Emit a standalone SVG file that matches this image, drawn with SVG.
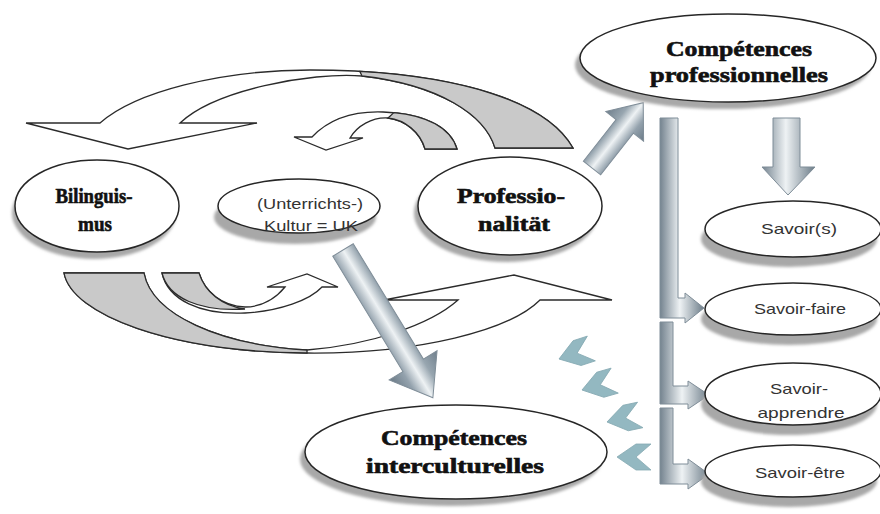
<svg xmlns="http://www.w3.org/2000/svg" width="880" height="514" viewBox="0 0 880 514">
<style>
.node{fill:#fff;stroke:#262626;stroke-width:1.5}
.shadow{fill:#a8a8a8;filter:url(#blur)}
.band{fill:#fff;stroke:#2b2b2b;stroke-width:1.3;stroke-linejoin:miter}
.bandg{fill:#c9c9c9;stroke:#2b2b2b;stroke-width:1.3}
.big{font-family:"Liberation Serif","Times New Roman",serif;font-weight:bold;font-size:21px;fill:#111;stroke:#111;stroke-width:0.6;text-anchor:middle}
.small{font-family:"Liberation Sans",Arial,sans-serif;font-size:15px;fill:#333;text-anchor:middle}
.chev{fill:#93b8c1;stroke:#86aab3;stroke-width:0.8}
.garrow{stroke:#7f8d98;stroke-width:1}
</style>
<defs>
<filter id="blur" x="-10%" y="-20%" width="120%" height="140%"><feGaussianBlur stdDeviation="1.5"/></filter>
<linearGradient id="gBar" x1="0" y1="0" x2="1" y2="0">
<stop offset="0" stop-color="#74838f"/><stop offset="0.45" stop-color="#eef2f4"/><stop offset="1" stop-color="#6c7c88"/>
</linearGradient>
<linearGradient id="gA" gradientUnits="userSpaceOnUse" x1="0" y1="-28" x2="0" y2="28">
<stop offset="0" stop-color="#6f7f8c"/><stop offset="0.3" stop-color="#98a6b0"/><stop offset="0.5" stop-color="#eef2f4"/><stop offset="0.72" stop-color="#94a2ad"/><stop offset="1" stop-color="#6a7a87"/>
</linearGradient>
<linearGradient id="gB" gradientUnits="userSpaceOnUse" x1="0" y1="-24" x2="0" y2="24">
<stop offset="0" stop-color="#6f7f8c"/><stop offset="0.3" stop-color="#98a6b0"/><stop offset="0.5" stop-color="#eef2f4"/><stop offset="0.72" stop-color="#94a2ad"/><stop offset="1" stop-color="#6a7a87"/>
</linearGradient>
<path id="chevron" d="M0,0 L19,-13 L34,-13 L19,0 L34,13 L19,13 Z"/>
</defs>

<g id="connectors">
  <!-- top big curved arrow -->
  <path class="band" d="M26,123 L100,123 C135,92 220,70 310,70 C420,70 540,90 573,148 L495,148 C485,115 440,85 362,76 C310,72 215,90 180,123 L257,123 L128,149 Z"/>
  <path class="bandg" d="M359.8,71.4 C454,76.9 545,98.7 573,148 L495,148 C485,115 440,85 362,76 Z"/>
  <!-- top small curved arrow -->
  <path class="band" d="M294,137 L312,137 C330,118 355,111 383,112 C420,113 450,125 457,149 L425,149 C420,132 405,120 388,118 C372,117 357,126 350,138 L363,138 L326,150 Z"/>
  <path class="bandg" d="M393.9,112.6 C425.8,115.5 450.7,127.4 457,149 L425,149 C420,132 405,120 388,118 Z"/>
  <!-- bottom big curved arrow -->
  <path class="band" d="M64,273 L144,273 C152,315 220,345 307,350 C370,345 430,325 458,300 L384,300 L514,275 L612,300 L540,300 C510,330 420,354 307,353 C170,352 72,315 64,273 Z"/>
  <path class="bandg" d="M64,273 L144,273 C152,315 220,345 307,350 L307,353 C170,352 72,315 64,273 Z"/>
  <!-- bottom small curved arrow -->
  <path class="band" d="M162,273 C168,300 200,315 245,313 C280,311 310,300 322,287 L338,287 L307,274 L267,287 L285,287 C276,298 262,307 245,307 C222,306 205,292 199,273 Z"/>
  <path class="bandg" d="M162,273 L199,273 C205,292 222,306 245,309 C200,312 168,298 162,273 Z"/>

  <!-- UK -> Compétences interculturelles -->
  <path class="garrow" fill="url(#gA)" transform="translate(343,250) rotate(58.7)" d="M0,-12 L135,-12 L135,-28 L173,0 L135,28 L135,12 L0,12 Z"/>
  <!-- Professionalität -> Compétences professionnelles -->
  <path class="garrow" fill="url(#gB)" transform="translate(592,168) rotate(-51.9)" d="M0,-11 L53,-11 L53,-24 L83,0 L53,24 L53,11 L0,11 Z"/>
  <!-- down to Savoir(s) -->
  <path class="garrow" fill="url(#gBar)" d="M773,118 L800,118 L800,167 L815,167 L788,195 L762,167 L773,167 Z"/>
  <!-- bracket to Savoir-faire -->
  <path class="garrow" fill="url(#gBar)" d="M660,118 L678,118 L678,298 L685,298 L685,293 L704,308 L685,323 L685,318 L660,318 Z"/>
  <!-- bracket to Savoir-apprendre -->
  <path class="garrow" fill="url(#gBar)" d="M660,322 L673,322 L673,386 L688,386 L688,381 L709,395 L688,409 L688,404 L660,404 Z"/>
  <!-- bracket to Savoir-être -->
  <path class="garrow" fill="url(#gBar)" d="M660,408 L673,408 L673,464 L688,464 L688,459 L709,474 L688,489 L688,484 L660,484 Z"/>

  <!-- chevrons towards Compétences interculturelles -->
  <use href="#chevron" class="chev" transform="translate(559,359) rotate(-18)"/>
  <use href="#chevron" class="chev" transform="translate(582,390) rotate(-16)"/>
  <use href="#chevron" class="chev" transform="translate(607,422) rotate(-12)"/>
  <use href="#chevron" class="chev" transform="translate(617,457)"/>
</g>

<g id="node-competences-professionnelles">
  <ellipse class="shadow" cx="723" cy="65" rx="148" ry="44"/>
  <ellipse class="node" cx="728" cy="58" rx="148" ry="44"/>
  <text class="big" x="739" y="56" textLength="146" lengthAdjust="spacingAndGlyphs">Compétences</text>
  <text class="big" x="739" y="82" textLength="178" lengthAdjust="spacingAndGlyphs">professionnelles</text>
</g>

<g id="node-bilinguismus">
  <ellipse class="shadow" cx="94" cy="213" rx="82" ry="46"/>
  <ellipse class="node" cx="97" cy="206" rx="82" ry="46"/>
  <text class="big" x="94" y="203" textLength="77" lengthAdjust="spacingAndGlyphs">Bilinguis-</text>
  <text class="big" x="95" y="231" textLength="34" lengthAdjust="spacingAndGlyphs">mus</text>
</g>

<g id="node-unterrichtskultur">
  <ellipse class="shadow" cx="295" cy="217" rx="81" ry="27"/>
  <ellipse class="node" cx="299" cy="206" rx="81" ry="27"/>
  <text class="small" x="310" y="209" textLength="106" lengthAdjust="spacingAndGlyphs">(Unterrichts-)</text>
  <text class="small" x="311" y="231" textLength="94" lengthAdjust="spacingAndGlyphs">Kultur = UK</text>
</g>

<g id="node-professionalitaet">
  <ellipse class="shadow" cx="506" cy="213" rx="92" ry="49"/>
  <ellipse class="node" cx="510" cy="206" rx="92" ry="49"/>
  <text class="big" x="511" y="203" textLength="108" lengthAdjust="spacingAndGlyphs">Professio-</text>
  <text class="big" x="514" y="231" textLength="72" lengthAdjust="spacingAndGlyphs">nalität</text>
</g>

<g id="node-savoirs">
  <ellipse class="shadow" cx="789" cy="239" rx="88" ry="28"/>
  <ellipse class="node" cx="793" cy="229" rx="88" ry="28"/>
  <text class="small" x="799" y="234" textLength="76" lengthAdjust="spacingAndGlyphs">Savoir(s)</text>
</g>

<g id="node-savoir-faire">
  <ellipse class="shadow" cx="789" cy="319" rx="88" ry="26"/>
  <ellipse class="node" cx="793" cy="309" rx="88" ry="26"/>
  <text class="small" x="800" y="314" textLength="92" lengthAdjust="spacingAndGlyphs">Savoir-faire</text>
</g>

<g id="node-savoir-apprendre">
  <ellipse class="shadow" cx="789" cy="404" rx="88" ry="31"/>
  <ellipse class="node" cx="793" cy="394" rx="88" ry="31"/>
  <text class="small" x="799" y="394" textLength="58" lengthAdjust="spacingAndGlyphs">Savoir-</text>
  <text class="small" x="801" y="418" textLength="87" lengthAdjust="spacingAndGlyphs">apprendre</text>
</g>

<g id="node-savoir-etre">
  <ellipse class="shadow" cx="789" cy="481" rx="88" ry="26"/>
  <ellipse class="node" cx="793" cy="471" rx="88" ry="26"/>
  <text class="small" x="800" y="478" textLength="90" lengthAdjust="spacingAndGlyphs">Savoir-être</text>
</g>

<g id="node-competences-interculturelles">
  <ellipse class="shadow" cx="451" cy="459" rx="151" ry="47"/>
  <ellipse class="node" cx="456" cy="452" rx="151" ry="47"/>
  <text class="big" x="454" y="445" textLength="146" lengthAdjust="spacingAndGlyphs">Compétences</text>
  <text class="big" x="455" y="473" textLength="178" lengthAdjust="spacingAndGlyphs">interculturelles</text>
</g>
</svg>
